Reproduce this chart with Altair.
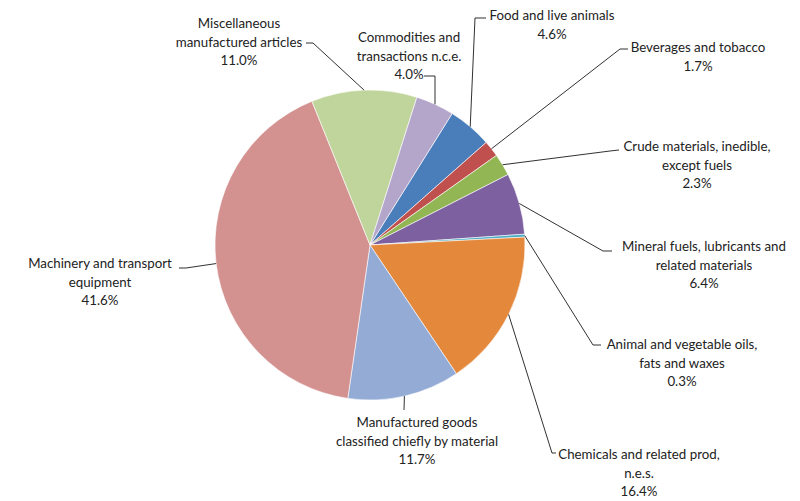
import altair as alt
import numpy as np
import pandas as pd

# ---------------- data ----------------
categories = [
    "Food and live animals",
    "Beverages and tobacco",
    "Crude materials, inedible, except fuels",
    "Mineral fuels, lubricants and related materials",
    "Animal and vegetable oils, fats and waxes",
    "Chemicals and related prod, n.e.s.",
    "Manufactured goods classified chiefly by material",
    "Machinery and transport equipment",
    "Miscellaneous manufactured articles",
    "Commodities and transactions n.c.e.",
]
shares = [4.6, 1.7, 2.3, 6.4, 0.3, 16.4, 11.7, 41.6, 11.0, 4.0]
label_text_lines = [
    ["Food and live animals"],
    ["Beverages and tobacco"],
    ["Crude materials, inedible,", "except fuels"],
    ["Mineral fuels, lubricants and", "related materials"],
    ["Animal and vegetable oils,", "fats and waxes"],
    ["Chemicals and related prod,", "n.e.s."],
    ["Manufactured goods", "classified chiefly by material"],
    ["Machinery and transport", "equipment"],
    ["Miscellaneous", "manufactured articles"],
    ["Commodities and", "transactions n.c.e."],
]

# ---------------- styles / layout ----------------
colors = ["#4A7EBB", "#C0504D", "#93B655", "#7D60A0", "#4BACC6",
          "#E4883C", "#94ABD5", "#D39190", "#C0D59B", "#B4A6CB"]
W, H = 800, 501
CX, CY, R = 370, 245, 155
START_DEG = 32
FONT = "Lato"
FS = 13.3
LINE_H = 18.7

# label block centre x and first-line y (pixels)
label_cx = [552, 698, 697, 704, 682, 639, 417, 100, 239, 409]
label_y0 = [16, 48, 147, 247, 345, 455, 423, 264, 24, 38]
# leader line elbow and end points (pixels)
elbow_pts = [(475, 18), (620, 49), (610, 151), (603, 251), (593, 345),
             (552, 453), (404, 410), (186, 268), (313, 43), (435, 76)]
end_pts = [(486, 18), (628, 49), (619, 150), (612, 251), (601, 345),
           (556, 453), (404, 410), (179, 268), (306, 43), (424, 76)]

# ---------------- tables ----------------
pie_df = pd.DataFrame({"category": categories, "share": shares,
                       "order": list(range(len(categories)))})

vals = np.array(shares)
cum = np.cumsum(vals) - vals
mid = np.deg2rad(START_DEG) + 2 * np.pi * (cum + vals / 2) / vals.sum()

line_rows = []
for i, cat in enumerate(categories):
    sx = CX + R * np.sin(mid[i])
    sy = CY - R * np.cos(mid[i])
    pts = [(sx, sy), elbow_pts[i], end_pts[i]]
    for k, (px, py) in enumerate(pts):
        line_rows.append({"category": cat, "seq": k, "x": px, "y": py})
line_df = pd.DataFrame(line_rows)

text_rows = []
for i, cat in enumerate(categories):
    lines = label_text_lines[i] + [f"{shares[i]:.1f}%"]
    for k, t in enumerate(lines):
        text_rows.append({"category": cat, "line": t,
                          "x": label_cx[i], "y": label_y0[i] + k * LINE_H})
text_df = pd.DataFrame(text_rows)

xs = alt.Scale(domain=[0, W], range=[0, W], zero=False, nice=False)
ys = alt.Scale(domain=[0, H], range=[0, H], zero=False, nice=False)

off = np.deg2rad(START_DEG)
arcs = alt.Chart(pie_df).mark_arc(radius=R, stroke="white", strokeWidth=0.6).encode(
    theta=alt.Theta("share:Q", stack=True,
                    scale=alt.Scale(domain=[0, 100], range=[off, off + 2 * np.pi])),
    color=alt.Color("category:N", scale=alt.Scale(domain=categories, range=colors),
                    legend=None),
    order=alt.Order("order:Q"),
    x=alt.value(CX),
    y=alt.value(CY),
)

leaders = alt.Chart(line_df).mark_line(color="#1a1a1a", strokeWidth=0.9).encode(
    x=alt.X("x:Q", scale=xs, axis=None),
    y=alt.Y("y:Q", scale=ys, axis=None),
    detail="category:N",
    order="seq:Q",
)

labels = alt.Chart(text_df).mark_text(
    font=FONT, fontSize=FS, color="#222222", align="center", baseline="middle"
).encode(
    x=alt.X("x:Q", scale=xs, axis=None),
    y=alt.Y("y:Q", scale=ys, axis=None),
    text="line:N",
)

chart = alt.layer(arcs, leaders, labels).properties(
    width=W, height=H, padding=0,
    autosize=alt.AutoSizeParams(type="none"),
    background="white",
).configure_view(stroke=None)

chart.save("out.html", embed_options={"renderer": "svg", "actions": False})
